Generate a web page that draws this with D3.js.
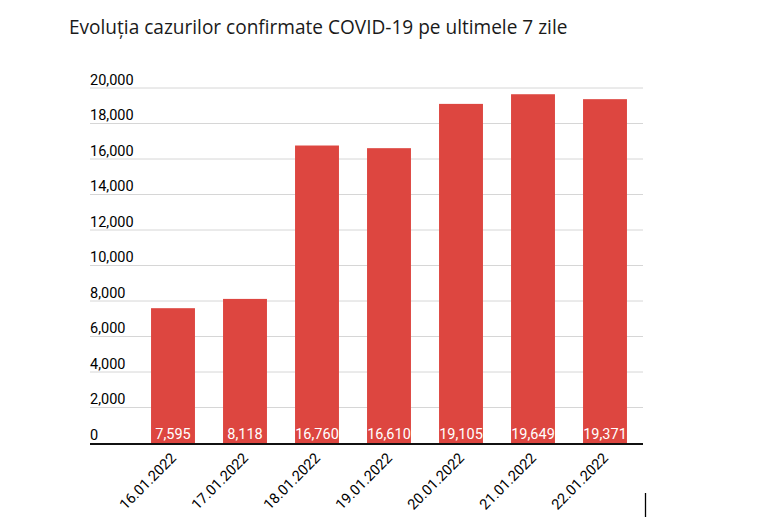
<!DOCTYPE html>
<html>
<head>
<meta charset="utf-8">
<script src="https://cdn.jsdelivr.net/npm/d3@7"></script>
<style>
  body { margin: 0; background: #fff; }
  svg { display: block; font-family: Roboto, sans-serif; }
</style>
</head>
<body>
<div id="chart"></div>
<script>
// chart data
const title = 'Evoluția cazurilor confirmate COVID-19 pe ultimele 7 zile';
const dates = ['16.01.2022', '17.01.2022', '18.01.2022', '19.01.2022', '20.01.2022', '21.01.2022', '22.01.2022'];
const cases = [7595, 8118, 16760, 16610, 19105, 19649, 19371];
const yTicks = [0, 2000, 4000, 6000, 8000, 10000, 12000, 14000, 16000, 18000, 20000];

let width = 762;
let height = 523;

// plot box
let gridLeft = 90, gridRight = 643;
let bandLeft = 137, bandRight = 641;
let plotTop = 88, plotBottom = 443;

const fmt = d3.format(',');

let svg = d3.select('#chart').append('svg')
    .attr('width', width)
    .attr('height', height);

let titleText = svg.append('text')
    .attr('x', 69)
    .attr('y', 34)
    .attr('font-family', '"Open Sans", sans-serif')
    .attr('font-size', 19)
    .attr('fill', '#1a1a1a')
    .text(title);
// stretch the font size so the title spans the same width as in the picture
let tw = titleText.node().getComputedTextLength();
titleText.attr('font-size', 19 * 499 / tw);

let x = d3.scaleBand()
    .domain(dates)
    .range([bandLeft, bandRight])
    .paddingInner(0.39)
    .paddingOuter(0.195);

let y = d3.scaleLinear()
    .domain([0, 20000])
    .range([plotBottom, plotTop]);

// gridlines
svg.append('g')
    .selectAll('line')
    .data(yTicks.filter(d => d > 0))
    .join('line')
    .attr('x1', gridLeft)
    .attr('x2', gridRight)
    .attr('y1', d => y(d))
    .attr('y2', d => y(d))
    .attr('stroke', '#d6d6d6')
    .attr('stroke-width', 1);

// y labels sit above their gridline
svg.append('g')
    .selectAll('text')
    .data(yTicks)
    .join('text')
    .attr('x', gridLeft)
    .attr('y', d => y(d) - 3.5)
    .attr('font-size', 14.5)
    .attr('fill', '#000')
    .text(d => fmt(d));

// bars
svg.append('g')
    .selectAll('rect')
    .data(cases)
    .join('rect')
    .attr('x', (d, i) => x(dates[i]))
    .attr('width', x.bandwidth())
    .attr('y', d => y(d))
    .attr('height', d => y(0) - y(d))
    .attr('fill', '#dd4640');

// value labels inside bar bottoms
svg.append('g')
    .selectAll('text')
    .data(cases)
    .join('text')
    .attr('x', (d, i) => x(dates[i]) + x.bandwidth() / 2)
    .attr('y', y(0) - 4)
    .attr('text-anchor', 'middle')
    .attr('font-size', 14.5)
    .attr('fill', '#fff')
    .text(d => fmt(d));

// baseline
svg.append('line')
    .attr('x1', gridLeft)
    .attr('x2', gridRight)
    .attr('y1', y(0) + 1)
    .attr('y2', y(0) + 1)
    .attr('stroke', '#111')
    .attr('stroke-width', 2);

// rotated date labels
svg.append('g')
    .selectAll('text')
    .data(dates)
    .join('text')
    .attr('transform', d => 'translate(' + (x(d) + x.bandwidth() / 2 + 4) + ',' + (y(0) + 16) + ') rotate(-45)')
    .attr('text-anchor', 'end')
    .attr('font-size', 14.5)
    .attr('fill', '#000')
    .text(d => d);

// the little text cursor in the screenshot
svg.append('line')
    .attr('x1', 645.5)
    .attr('x2', 645.5)
    .attr('y1', 493)
    .attr('y2', 517)
    .attr('stroke', '#000')
    .attr('stroke-width', 1.3);
</script>
</body>
</html>
